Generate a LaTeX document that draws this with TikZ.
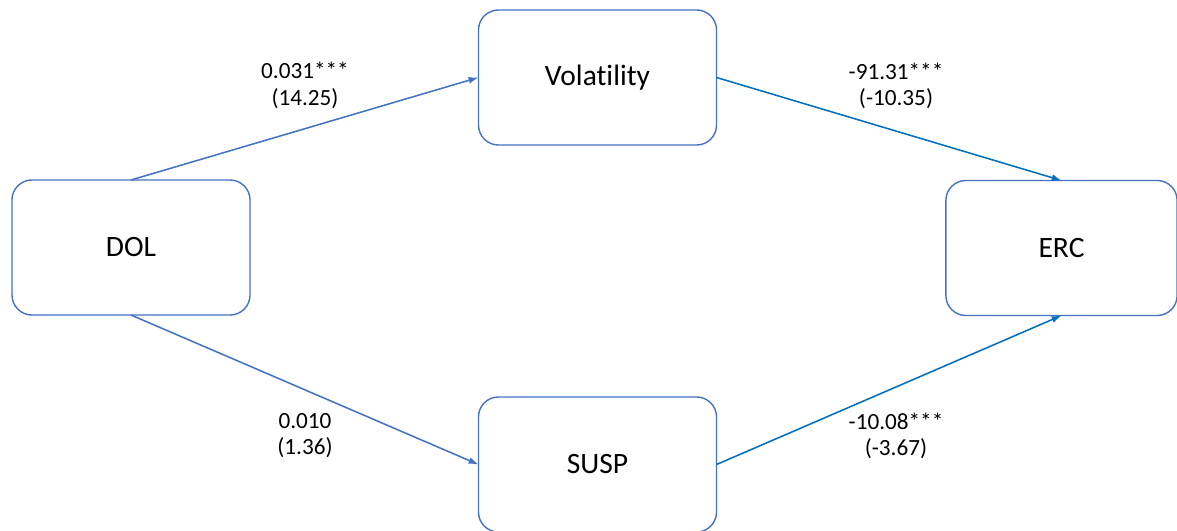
\documentclass[tikz,border=0pt]{standalone}
\usepackage{fontspec}
\setmainfont{Carlito}[Ligatures=NoCommon]
\usetikzlibrary{arrows.meta}

\definecolor{boxblue}{HTML}{4472C4}
\definecolor{pathblue}{HTML}{0070C0}

\begin{document}
\begin{tikzpicture}[x=0.025cm,y=-0.025cm,
  varbox/.style={draw=boxblue, line width=1pt, rounded corners=0.5cm,
    minimum width=5.95cm, minimum height=3.375cm, outer sep=0pt,
    font=\fontsize{21}{25}\selectfont},
  coef/.style={align=center, font=\fontsize{16.5}{19}\selectfont},
  link/.style={line width=1.1pt, -{Latex[length=7pt,width=5pt]}}]
  \useasboundingbox (0,0) rectangle (1177,531);

  % variables
  \node[varbox] (dol) at (131,247.5) {DOL};
  \node[varbox] (vol) at (597.5,77.5) {Volatility};
  \node[varbox] (susp) at (597.5,464.5) {SUSP};
  \node[varbox, minimum width=5.78cm] (erc) at (1061.5,248) {ERC};

  % paths
  \draw[link, boxblue] (dol.north) -- (vol.west);
  \draw[link, pathblue] (vol.east) -- (erc.north);
  \draw[link, boxblue] (dol.south) -- (susp.west);
  \draw[link, pathblue] (susp.east) -- (erc.south);

  % coefficients (t-values)
  \node[coef] (a1) at (305,85.5) {0.031***\\(14.25)};
  \node[coef] (b1) at (896,86) {-91.31***\\(-10.35)};
  \node[coef] (a2) at (305,435.5) {0.010\\(1.36)};
  \node[coef] (b2) at (896,436) {-10.08***\\(-3.67)};
\end{tikzpicture}
\end{document}
